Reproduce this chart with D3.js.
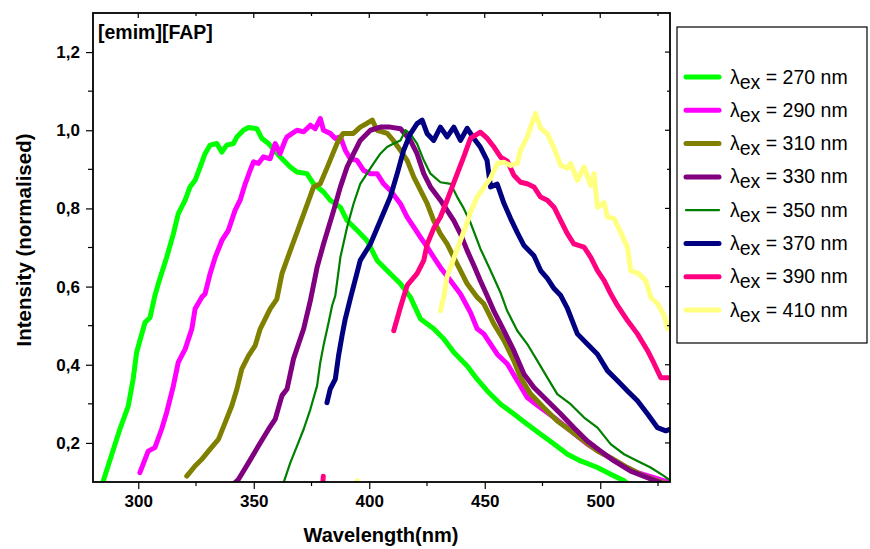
<!DOCTYPE html>
<html>
<head>
<meta charset="utf-8">
<script src="https://cdn.jsdelivr.net/npm/d3@7"></script>
<style>
  body { margin: 0; background: #fff; }
  svg { font-family: "Liberation Sans", Arial, sans-serif; }
</style>
</head>
<body>
<div id="container"></div>
<script>
// emission spectra, [wavelength nm, normalised intensity]
const ex270 = [[284.7,0.10],[292.1,0.236],[295.7,0.295],[297.8,0.364],[299.3,0.432],[302.9,0.508],[305.1,0.521],[307.2,0.577],[308.7,0.608],[312.3,0.675],[315.2,0.735],[317.3,0.786],[320.3,0.821],[322.4,0.855],[324.6,0.872],[326.8,0.906],[328.9,0.94],[331.1,0.962],[334.0,0.966],[336.2,0.944],[338.3,0.962],[341.2,0.966],[342.7,0.983],[345.5,1.0],[347.7,1.007],[351.3,1.004],[353.5,0.979],[356.4,0.966],[361.4,0.932],[365.8,0.906],[368.7,0.893],[373.0,0.889],[375.9,0.863],[380.2,0.842],[383.1,0.821],[387.5,0.803],[390.4,0.769],[394.7,0.744],[399.0,0.718],[403.4,0.667],[409.1,0.633],[413.5,0.607],[417.8,0.573],[422.2,0.517],[427.9,0.492],[432.3,0.466],[436.6,0.432],[442.4,0.397],[446.7,0.363],[451.1,0.333],[456.9,0.299],[462.6,0.274],[468.4,0.248],[474.2,0.222],[480.0,0.197],[485.8,0.171],[491.5,0.154],[498.8,0.137],[504.5,0.12],[510.3,0.103],[512,0.095]];
const ex290 = [[300.7,0.124],[304.3,0.179],[307.2,0.188],[310.1,0.235],[312.3,0.278],[315.2,0.346],[317.3,0.406],[320.3,0.44],[323.2,0.492],[324.6,0.543],[327.5,0.573],[328.9,0.581],[331.1,0.633],[333.3,0.675],[336.2,0.718],[339.0,0.744],[341.9,0.795],[344.1,0.821],[346.3,0.863],[348.4,0.897],[349.9,0.919],[352.0,0.915],[354.2,0.932],[357.1,0.927],[359.3,0.966],[361.4,0.94],[363.6,0.974],[364.4,0.983],[368.7,1.0],[371.6,0.996],[374.5,1.013],[376.6,1.004],[378.8,1.03],[380.2,1.0],[383.1,0.992],[385.3,0.979],[387.5,0.983],[389.6,0.949],[391.8,0.927],[394.7,0.923],[397.6,0.897],[400.5,0.889],[403.4,0.889],[406.2,0.863],[409.1,0.846],[411.3,0.829],[413.5,0.812],[416.4,0.778],[419.3,0.752],[422.2,0.726],[425.1,0.701],[427.9,0.675],[430.8,0.649],[435.2,0.615],[439.5,0.581],[443.8,0.534],[446.7,0.492],[449.6,0.479],[455.4,0.427],[459.8,0.402],[464.1,0.359],[468.4,0.316],[474.2,0.29],[480.0,0.265],[487.2,0.231],[494.4,0.197],[501.6,0.171],[508.9,0.145],[516.1,0.124],[523.3,0.111],[527.7,0.103],[530,0.098]];
const ex310 = [[321.0,0.115],[324.6,0.141],[327.5,0.158],[331.1,0.184],[334.7,0.209],[337.6,0.252],[340.5,0.295],[342.7,0.338],[344.8,0.389],[347.7,0.423],[350.6,0.449],[352.8,0.492],[354.9,0.517],[357.1,0.543],[360.0,0.568],[362.2,0.633],[365.8,0.692],[370.1,0.761],[375.9,0.855],[378.8,0.863],[381.8,0.905],[386.1,0.967],[388.7,0.992],[393.1,0.992],[396.1,1.008],[399.1,1.018],[401.3,1.026],[403.4,1.0],[407.8,0.992],[410.4,0.974],[412.6,0.956],[416.4,0.923],[419.3,0.88],[422.2,0.846],[425.1,0.812],[427.9,0.769],[430.8,0.735],[433.7,0.709],[436.6,0.675],[439.5,0.641],[442.4,0.607],[446.7,0.573],[449.6,0.556],[454.0,0.504],[458.3,0.462],[462.6,0.41],[465.5,0.367],[469.9,0.325],[475.6,0.29],[481.4,0.256],[487.2,0.231],[493.0,0.205],[498.8,0.179],[504.5,0.162],[511.8,0.137],[519.0,0.115],[524.8,0.103],[528,0.097]];
const ex330 = [[341.9,0.098],[343.4,0.107],[347.7,0.149],[352.0,0.192],[356.4,0.235],[359.3,0.261],[362.2,0.321],[364.4,0.338],[367.2,0.415],[371.6,0.492],[374.5,0.564],[377.4,0.649],[380.2,0.709],[384.6,0.795],[387.5,0.855],[390.4,0.906],[393.2,0.94],[396.1,0.974],[400.5,1.0],[404.8,1.008],[409.1,1.008],[413.5,1.004],[417.8,0.974],[420.7,0.94],[423.6,0.889],[426.5,0.855],[430.8,0.821],[433.7,0.795],[436.6,0.769],[439.5,0.735],[442.4,0.692],[445.3,0.654],[448.1,0.615],[451.0,0.577],[453.9,0.538],[458.3,0.487],[462.6,0.436],[467.0,0.376],[471.3,0.342],[477.1,0.308],[482.9,0.274],[488.6,0.239],[494.4,0.205],[500.2,0.179],[506.0,0.154],[513.2,0.128],[520.5,0.111],[526.2,0.098]];
const ex350 = [[362.9,0.098],[365.8,0.149],[368.7,0.192],[371.6,0.235],[374.5,0.286],[377.4,0.346],[378.8,0.406],[380.2,0.449],[382.4,0.508],[383.9,0.551],[385.3,0.577],[387.5,0.675],[390.4,0.752],[393.2,0.812],[396.1,0.863],[399.0,0.889],[401.9,0.915],[404.8,0.94],[407.7,0.957],[410.6,0.966],[413.5,0.974],[415.7,1.0],[417.8,0.991],[420.7,0.966],[423.6,0.923],[426.5,0.889],[430.8,0.867],[435.2,0.863],[438.1,0.829],[440.9,0.8],[443.8,0.764],[448.1,0.697],[452.5,0.641],[456.8,0.585],[459.7,0.538],[464.1,0.487],[468.4,0.453],[472.8,0.41],[477.1,0.367],[481.4,0.325],[487.2,0.299],[493.0,0.265],[498.8,0.239],[504.5,0.197],[510.3,0.171],[516.1,0.154],[521.8,0.137],[527.7,0.115],[530.5,0.103]];
const ex370 = [[381.7,0.303],[383.1,0.338],[385.3,0.363],[386.7,0.423],[388.2,0.474],[389.6,0.517],[391.8,0.569],[396.1,0.667],[400.5,0.709],[404.8,0.769],[409.1,0.829],[412.1,0.889],[414.9,0.949],[417.8,0.991],[420.7,1.017],[422.9,1.026],[425.1,0.991],[427.9,0.974],[430.8,1.008],[433.7,0.983],[436.6,1.008],[439.5,0.974],[442.4,1.005],[445.3,0.979],[448.1,0.957],[451.0,0.923],[452.5,0.855],[455.4,0.862],[458.3,0.813],[461.2,0.774],[464.1,0.738],[467.0,0.705],[471.3,0.679],[474.2,0.641],[477.1,0.621],[480.0,0.595],[482.9,0.577],[485.8,0.544],[490.1,0.479],[494.4,0.453],[498.8,0.427],[503.1,0.385],[507.5,0.359],[511.8,0.333],[516.1,0.308],[520.5,0.274],[524.8,0.239],[528.4,0.231],[530.6,0.236]];
const ex390 = [[410.6,0.487],[413.5,0.547],[416.4,0.603],[420.7,0.633],[423.6,0.667],[425.1,0.709],[427.9,0.749],[430.8,0.778],[433.7,0.821],[438.1,0.889],[440.9,0.932],[443.8,0.979],[448.1,0.995],[451.1,0.979],[454.0,0.957],[456.9,0.931],[459.8,0.921],[462.6,0.885],[465.5,0.867],[468.4,0.863],[471.3,0.855],[474.2,0.829],[477.1,0.821],[480.0,0.803],[482.9,0.769],[485.8,0.735],[488.6,0.709],[493.0,0.701],[495.9,0.675],[498.8,0.641],[501.7,0.615],[504.6,0.581],[507.5,0.551],[511.8,0.513],[516.1,0.479],[520.5,0.436],[523.4,0.402],[526.2,0.367],[530.6,0.367]];
const ex390b = [[379.8,0.09],[380.1,0.115]];
const ex410 = [[430.8,0.538],[432.3,0.574],[433.7,0.626],[436.6,0.672],[439.5,0.718],[442.4,0.764],[443.8,0.79],[446.7,0.829],[449.6,0.854],[452.5,0.877],[455.4,0.915],[458.3,0.918],[461.2,0.91],[464.1,0.915],[465.5,0.949],[468.4,0.983],[471.3,1.033],[472.0,1.043],[474.2,1.005],[477.1,0.991],[480.0,0.954],[482.9,0.91],[485.8,0.903],[487.2,0.915],[490.1,0.872],[493.0,0.906],[495.9,0.859],[497.3,0.889],[498.8,0.803],[501.7,0.815],[503.1,0.778],[506.0,0.774],[508.9,0.738],[511.8,0.7],[513.2,0.641],[516.7,0.633],[519.7,0.615],[521.9,0.572],[524.8,0.556],[527.7,0.526],[529.2,0.492]];
const ex410b = [[394.5,0.09],[394.8,0.103]];

const seriesData = [[ex270], [ex290], [ex310], [ex330], [ex350], [ex370], [ex390, ex390b], [ex410, ex410b]];
const legendLabels = ['270', '290', '310', '330', '350', '370', '390', '410'];
const colors = ['#00ff00', '#ff00ff', '#808000', '#800080', '#008000', '#000080', '#ff0080', '#ffff80'];
const widths = [5, 5, 5, 5, 2.2, 5, 5, 5];

const xTicks = [300, 350, 400, 450, 500];
const yTicks = [0.2, 0.4, 0.6, 0.8, 1.0, 1.2];

const margin = { top: 13, left: 93, right: 670, bottom: 482 };

const svg = d3.select('#container')
    .append('svg')
    .attr('width', 870)
    .attr('height', 549);

const x = d3.scaleLinear().domain([280.4, 530.2]).range([margin.left, margin.right]);
const y = d3.scaleLinear().domain([0.1, 1.3]).range([margin.bottom, margin.top]);

svg.append('clipPath').attr('id', 'plot-clip')
    .append('rect')
    .attr('x', margin.left).attr('y', margin.top)
    .attr('width', margin.right - margin.left)
    .attr('height', margin.bottom - margin.top);

const line = d3.line().x(d => x(d[0])).y(d => y(d[1]));

const curves = svg.append('g').attr('clip-path', 'url(#plot-clip)');
seriesData.forEach((segs, i) => {
    segs.forEach(seg => {
        curves.append('path')
            .attr('d', line(seg))
            .attr('fill', 'none')
            .attr('stroke', colors[i])
            .attr('stroke-width', widths[i])
            .attr('stroke-linejoin', 'round')
            .attr('stroke-linecap', 'round');
    });
});

// axes
const minorX = d3.range(275, 531, 25).filter(v => v >= 281 && !xTicks.includes(v));
const minorY = [0.3, 0.5, 0.7, 0.9, 1.1];

const bottom = svg.append('g')
    .attr('transform', `translate(0, ${margin.bottom})`)
    .call(d3.axisBottom(x).tickValues(xTicks).tickSize(7).tickPadding(6).tickFormat(d3.format('d')));
bottom.append('g').selectAll('line').data(minorX).join('line')
    .attr('x1', d => x(d)).attr('x2', d => x(d)).attr('y1', 0).attr('y2', 4)
    .attr('stroke', '#000').attr('stroke-width', 1.2);

const left = svg.append('g')
    .attr('transform', `translate(${margin.left}, 0)`)
    .call(d3.axisLeft(y).tickValues(yTicks).tickSize(7).tickPadding(6).tickFormat(d => d3.format('.1f')(d).replace('.', ',')));
left.append('g').selectAll('line').data(minorY).join('line')
    .attr('y1', d => y(d)).attr('y2', d => y(d)).attr('x1', 0).attr('x2', -5)
    .attr('stroke', '#000').attr('stroke-width', 1.2);

[bottom, left].forEach(g => {
    g.select('.domain').remove();
    g.selectAll('.tick line').attr('stroke-width', 1.2);
    g.selectAll('.tick text')
        .attr('font-family', '"Liberation Sans", Arial, sans-serif')
        .attr('font-size', 17).attr('font-weight', 'bold').attr('fill', '#000');
});

// top and right ticks point inwards
svg.append('g').selectAll('line').data(xTicks.concat(minorX)).join('line')
    .attr('x1', d => x(d)).attr('x2', d => x(d))
    .attr('y1', margin.top).attr('y2', d => margin.top + (xTicks.includes(d) ? 5 : 3))
    .attr('stroke', '#000').attr('stroke-width', 1.2);
svg.append('g').selectAll('line').data(yTicks.concat(minorY)).join('line')
    .attr('y1', d => y(d)).attr('y2', d => y(d))
    .attr('x1', margin.right).attr('x2', d => margin.right - (yTicks.includes(d) ? 5 : 3))
    .attr('stroke', '#000').attr('stroke-width', 1.2);

svg.append('rect')
    .attr('x', margin.left).attr('y', margin.top)
    .attr('width', margin.right - margin.left)
    .attr('height', margin.bottom - margin.top)
    .attr('fill', 'none').attr('stroke', '#000').attr('stroke-width', 1.8);

svg.append('text')
    .attr('x', 98).attr('y', 39)
    .attr('font-size', 19.5).attr('font-weight', 'bold')
    .text('[emim][FAP]');

svg.append('text')
    .attr('x', 381).attr('y', 542)
    .attr('text-anchor', 'middle')
    .attr('font-size', 20).attr('font-weight', 'bold')
    .text('Wavelength(nm)');

svg.append('text')
    .attr('transform', 'translate(31, 240) rotate(-90)')
    .attr('text-anchor', 'middle')
    .attr('font-size', 20.5).attr('font-weight', 'bold')
    .text('Intensity (normalised)');

// legend
const legend = svg.append('g');
legend.append('rect')
    .attr('x', 677).attr('y', 27).attr('width', 190).attr('height', 316)
    .attr('fill', '#fff').attr('stroke', '#000').attr('stroke-width', 1.2);

legendLabels.forEach((lab, i) => {
    const ly = 77 + i * 33.3;
    legend.append('line')
        .attr('x1', 686).attr('x2', 719).attr('y1', ly).attr('y2', ly)
        .attr('stroke', colors[i]).attr('stroke-width', widths[i])
        .attr('stroke-linecap', 'round');
    const t = legend.append('text')
        .attr('x', 730).attr('y', ly + 6.5)
        .attr('font-size', 19.5);
    t.append('tspan').text('λ');
    t.append('tspan').attr('dy', 5).text('ex');
    t.append('tspan').attr('dy', -5).text(' = ' + lab + ' nm');
});
</script>
</body>
</html>
